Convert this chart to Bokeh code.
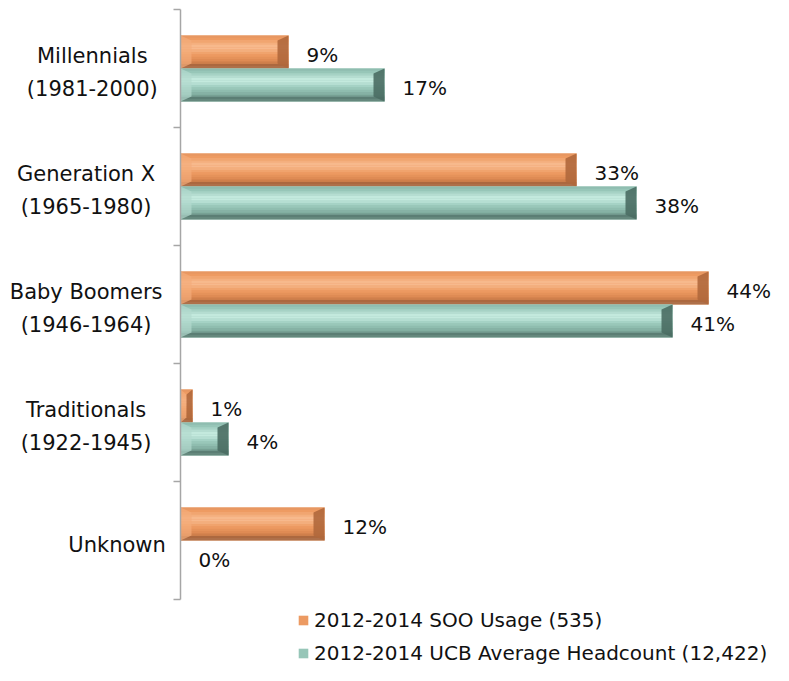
from bokeh.plotting import figure
from bokeh.models import Range1d, Legend, LegendItem
from bokeh.embed import file_html
from bokeh.resources import INLINE
from bokeh.core.properties import value

# ---- data ----
categories = ["Millennials\n(1981-2000)", "Generation X\n(1965-1980)",
              "Baby Boomers\n(1946-1964)", "Traditionals\n(1922-1945)", "Unknown"]
soo_usage = [9, 33, 44, 1, 12]
ucb_headcount = [17, 38, 41, 4, 0]
series_names = ["2012-2014 SOO Usage (535)", "2012-2014 UCB Average Headcount (12,422)"]

# ---- layout constants (pixels) ----
W, H = 773, 665
AXIS_PX = 180          # canvas x of value axis (0%)
PX_PER_UNIT = 12.0     # pixels per percent
ROW_PX = 118           # pixels per category
TOP_PX = 68            # canvas y of first category centre
BAR_H = 0.28           # bar thickness in category units
FONT = "DejaVu Sans"

x_start = -AXIS_PX / PX_PER_UNIT
x_end = x_start + W / PX_PER_UNIT
y_top = -TOP_PX / ROW_PX
y_bottom = y_top + H / ROW_PX

p = figure(width=W, height=H, x_range=Range1d(x_start, x_end),
           y_range=Range1d(y_bottom, y_top), output_backend="svg",
           toolbar_location=None, min_border=0, x_axis_location=None,
           y_axis_location=None)
p.grid.visible = False
p.outline_line_color = None
p.background_fill_color = "white"
p.border_fill_color = "white"


def hex2rgb(h):
    h = h.lstrip("#")
    return [int(h[i:i + 2], 16) for i in (0, 2, 4)]


def grad(stops, f):
    for (f0, c0), (f1, c1) in zip(stops[:-1], stops[1:]):
        if f0 <= f <= f1:
            t = (f - f0) / (f1 - f0) if f1 > f0 else 0
            a, b = hex2rgb(c0), hex2rgb(c1)
            return "#%02x%02x%02x" % tuple(round(a[k] + (b[k] - a[k]) * t) for k in range(3))
    return stops[-1][1]


styles = [
    dict(face="#EC9A62",
         stops=[(0, "#E39562"), (0.1, "#EE9A61"), (0.36, "#F8BE94"), (0.58, "#EE9C63"),
                (0.8, "#DA864F"), (0.9, "#A9663E"), (1.0, "#B07650")],
         rim_left="#F3AC7A", rim_right="#B0683C"),
    dict(face="#97C6B8",
         stops=[(0, "#8BB9AC"), (0.1, "#96C5B7"), (0.36, "#CBEFE4"), (0.58, "#9CCBBD"),
                (0.8, "#80AB9E"), (0.9, "#587B71"), (1.0, "#6C8F84")],
         rim_left="#B3DACE", rim_right="#4A6D63"),
]

n = len(categories)
N_STRIPS = 14
face_renderers = []
for vals, st, off in zip([soo_usage, ucb_headcount], styles, [-BAR_H / 2, BAR_H / 2]):
    ys = [i + off for i in range(n)]
    bxs = [min(11 / PX_PER_UNIT, v / 2) for v in vals]
    by = 5 / ROW_PX
    yt = [y - BAR_H / 2 for y in ys]
    yb = [y + BAR_H / 2 for y in ys]
    # base face (used for legend swatch)
    r = p.hbar(y=ys, left=0, right=vals, height=BAR_H, fill_color=st["face"], line_color=None)
    face_renderers.append(r)
    # vertical gradient, built of thin strips
    sh = BAR_H / N_STRIPS
    for k in range(N_STRIPS):
        f = (k + 0.5) / N_STRIPS
        p.hbar(y=[t + (k + 0.5) * sh for t in yt], left=0, right=vals, height=sh * 1.05,
               fill_color=grad(st["stops"], f), line_color=None)
    # bevelled ends
    lft_x, lft_y, rgt_x, rgt_y = [], [], [], []
    for v, bx, t, b in zip(vals, bxs, yt, yb):
        lft_x.append([0, bx, bx, 0]); lft_y.append([t, t + by, b - by, b])
        rgt_x.append([v, v - bx, v - bx, v]); rgt_y.append([t, t + by, b - by, b])
    p.patches(lft_x, lft_y, fill_color=st["rim_left"], fill_alpha=0.7, line_color=None)
    p.patches(rgt_x, rgt_y, fill_color=st["rim_right"], fill_alpha=0.9, line_color=None)
    # value labels
    p.text(x=vals, y=ys, text=[f"{v}%" for v in vals], x_offset=18, y_offset=3,
           text_align="left", text_baseline="middle", text_font=value(FONT),
           text_font_size="20px", text_color="#111111")

# value axis line and ticks
p.segment(x0=[0], y0=[-0.5], x1=[0], y1=[n - 0.5], line_color="#A6A6A6", line_width=1.5)
tick_len = 7 / PX_PER_UNIT
p.segment(x0=[-tick_len] * (n + 1), y0=[k - 0.5 for k in range(n + 1)],
          x1=[0] * (n + 1), y1=[k - 0.5 for k in range(n + 1)],
          line_color="#A6A6A6", line_width=1.5)

# category labels: right-aligned block, lines centred within block
right_edge = -20 / PX_PER_UNIT
char_w = 12.4 / PX_PER_UNIT
cx = [right_edge - max(len(l) for l in c.split("\n")) * char_w / 2 for c in categories]
p.text(x=cx, y=list(range(n)), text=categories, y_offset=4, text_align="center",
       text_baseline="middle", text_font=value(FONT), text_font_size="21px",
       text_line_height=1.35, text_color="#111111")

legend = Legend(items=[LegendItem(label=series_names[0], renderers=[face_renderers[0]]),
                       LegendItem(label=series_names[1], renderers=[face_renderers[1]])],
                location=(297, 0), orientation="vertical", padding=0, margin=0,
                spacing=9, label_height=24, glyph_height=12, glyph_width=12,
                label_standoff=5, label_text_font=FONT, label_text_font_size="20px",
                label_text_color="#111111", background_fill_alpha=0,
                border_line_alpha=0)
p.add_layout(legend)

open("out.html", "w").write(file_html(p, INLINE))
